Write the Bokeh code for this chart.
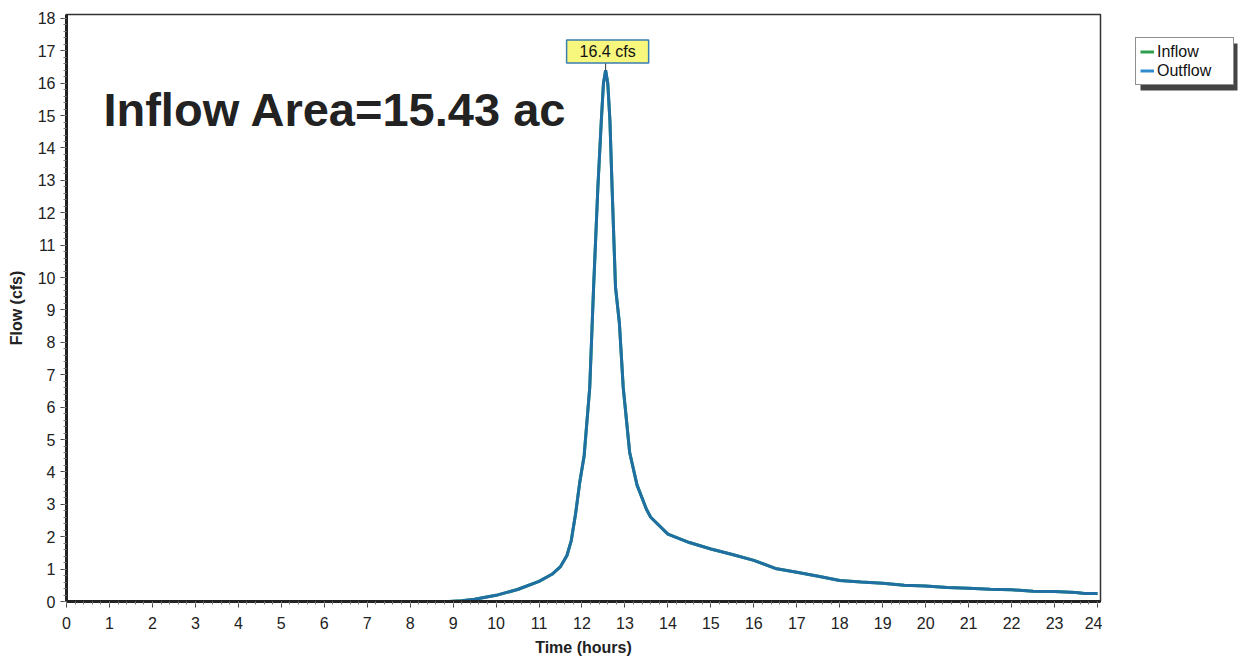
from bokeh.plotting import figure
from bokeh.layouts import row
from bokeh.models import (Range1d, Label, Legend, LegendItem, SingleIntervalTicker,
                          ColumnDataSource, BoxAnnotation)
from bokeh.embed import file_html
from bokeh.resources import INLINE

# ---- data ----
hours = [0.0, 8.9, 9.2, 9.5, 10.0, 10.5, 11.0, 11.3, 11.5, 11.65, 11.75, 11.85, 11.95,
         12.05, 12.18, 12.27, 12.37, 12.45, 12.5, 12.55, 12.6, 12.65, 12.7, 12.78, 12.87,
         12.96, 13.11, 13.28, 13.5, 13.6, 14.0, 14.5, 15.0, 15.5, 16.0, 16.5, 17.0, 17.5,
         18.0, 18.5, 19.0, 19.5, 20.0, 20.5, 21.0, 21.5, 22.0, 22.5, 23.0, 23.5, 23.7, 24.0]
outflow = [0.0, 0.0, 0.02, 0.07, 0.19, 0.37, 0.62, 0.84, 1.08, 1.42, 1.88, 2.7, 3.7,
           4.5, 6.6, 9.7, 12.8, 14.85, 16.0, 16.4, 16.0, 14.85, 12.8, 9.7, 8.6,
           6.6, 4.6, 3.6, 2.85, 2.6, 2.08, 1.82, 1.62, 1.45, 1.27, 1.02, 0.9, 0.78,
           0.65, 0.6, 0.56, 0.5, 0.48, 0.43, 0.41, 0.38, 0.36, 0.32, 0.31, 0.28, 0.25, 0.25]
inflow = list(outflow)  # inflow hydrograph coincides with outflow (hidden beneath it)

series_names = ["Inflow", "Outflow"]
series_colors = ["#2e9e4f", "#1f6fa5"]
legend_colors = ["#2e9e4f", "#2f8ccc"]
area_text = "Inflow Area=15.43 ac"

FONT = "Liberation Sans"
H = 660
TOP, BOT = 14, 601           # frame top / bottom (px)

p = figure(width=1102, height=H,
           x_range=Range1d(0, 24.07), y_range=Range1d(0, 18.12),
           output_backend="svg", toolbar_location=None,
           min_border_left=66, min_border_right=2, min_border_top=TOP, min_border_bottom=H - BOT)

p.background_fill_color = "white"
p.border_fill_color = "white"
p.outline_line_color = "#333333"
p.outline_line_width = 1.5
p.grid.visible = False

src = ColumnDataSource(dict(x=hours, inflow=inflow, outflow=outflow))
p.line("x", "inflow", source=src, line_color=series_colors[0], line_width=3)
p.line("x", "outflow", source=src, line_color=series_colors[1], line_width=3)

# axes
for ax in (p.xaxis[0], p.yaxis[0]):
    ax.ticker = SingleIntervalTicker(interval=1, num_minor_ticks=5)
    ax.axis_line_width = 3
    ax.axis_line_color = "#222222"
    ax.major_tick_in = 0
    ax.major_tick_out = 6
    ax.minor_tick_in = 0
    ax.minor_tick_out = 3
    ax.major_tick_line_color = "#444444"
    ax.minor_tick_line_color = "#777777"
    ax.major_label_text_font = FONT
    ax.major_label_text_font_size = "16px"
    ax.major_label_text_color = "#222222"
    ax.axis_label_text_font = FONT
    ax.axis_label_text_font_style = "bold"
    ax.axis_label_text_font_size = "16px"
    ax.axis_label_text_color = "#222222"

p.xaxis.axis_label = "Time (hours)"
p.yaxis.axis_label = "Flow (cfs)"
p.xaxis.major_label_standoff = 9
p.xaxis.axis_label_standoff = 7
p.yaxis.major_label_standoff = 5
p.yaxis.axis_label_standoff = 10

# peak label
pk = max(range(len(outflow)), key=lambda i: outflow[i])
peak_x, peak_y = hours[pk], outflow[pk]
p.segment(x0=[peak_x], y0=[peak_y], x1=[peak_x], y1=[peak_y + 0.22], line_color="#333333", line_width=1)
p.add_layout(Label(x=peak_x, y=peak_y + 0.22, x_offset=2, text=f"{peak_y:.1f} cfs",
                   text_align="center", text_baseline="bottom",
                   text_font=FONT, text_font_size="16px", text_color="#111111",
                   background_fill_color="#f7f77e", border_line_color="#3a7db0",
                   border_line_width=1.5, padding=(13, 3)))

# area annotation
p.add_layout(Label(x=0.86, y=15.18, text=area_text, text_align="left",
                   text_baseline="alphabetic", text_font=FONT, text_font_size="47px",
                   text_font_style="bold", text_color="#222222"))

# ---- legend panel to the right of the plot (pixel-like data units inside the frame) ----
LW = 1241 - 1102
FH = BOT - TOP
q = figure(width=LW, height=H, x_range=Range1d(0, LW), y_range=Range1d(0, FH),
           output_backend="svg", toolbar_location=None,
           x_axis_location=None, y_axis_location=None,
           min_border_left=0, min_border_right=0, min_border_top=TOP, min_border_bottom=H - BOT)
q.outline_line_color = None
q.grid.visible = False
q.background_fill_color = "white"
q.border_fill_color = "white"

r_in = q.line("x", "inflow", source=src, line_color=legend_colors[0], line_width=3, visible=False)
r_out = q.line("x", "outflow", source=src, line_color=legend_colors[1], line_width=3, visible=False)

# drop shadow (legend box spans page y 38..85, x 1135..1232)
q.add_layout(BoxAnnotation(left=38, right=135, bottom=BOT - 90, top=BOT - 43,
                           fill_color="#444444", fill_alpha=1, line_color=None))

legend = Legend(items=[LegendItem(label=series_names[0], renderers=[r_in]),
                       LegendItem(label=series_names[1], renderers=[r_out])],
                location=(33, BOT - 85), margin=0, padding=4, spacing=0,
                label_text_font=FONT, label_text_font_size="16px", label_text_color="#111111",
                glyph_width=14, glyph_height=19, label_standoff=3, label_height=19,
                label_width=72,
                border_line_color="#222222", border_line_width=1.5,
                background_fill_color="white", background_fill_alpha=1,
                inactive_fill_alpha=0)
q.add_layout(legend, "center")

open("out.html", "w").write(file_html(row(p, q, spacing=0), INLINE))
